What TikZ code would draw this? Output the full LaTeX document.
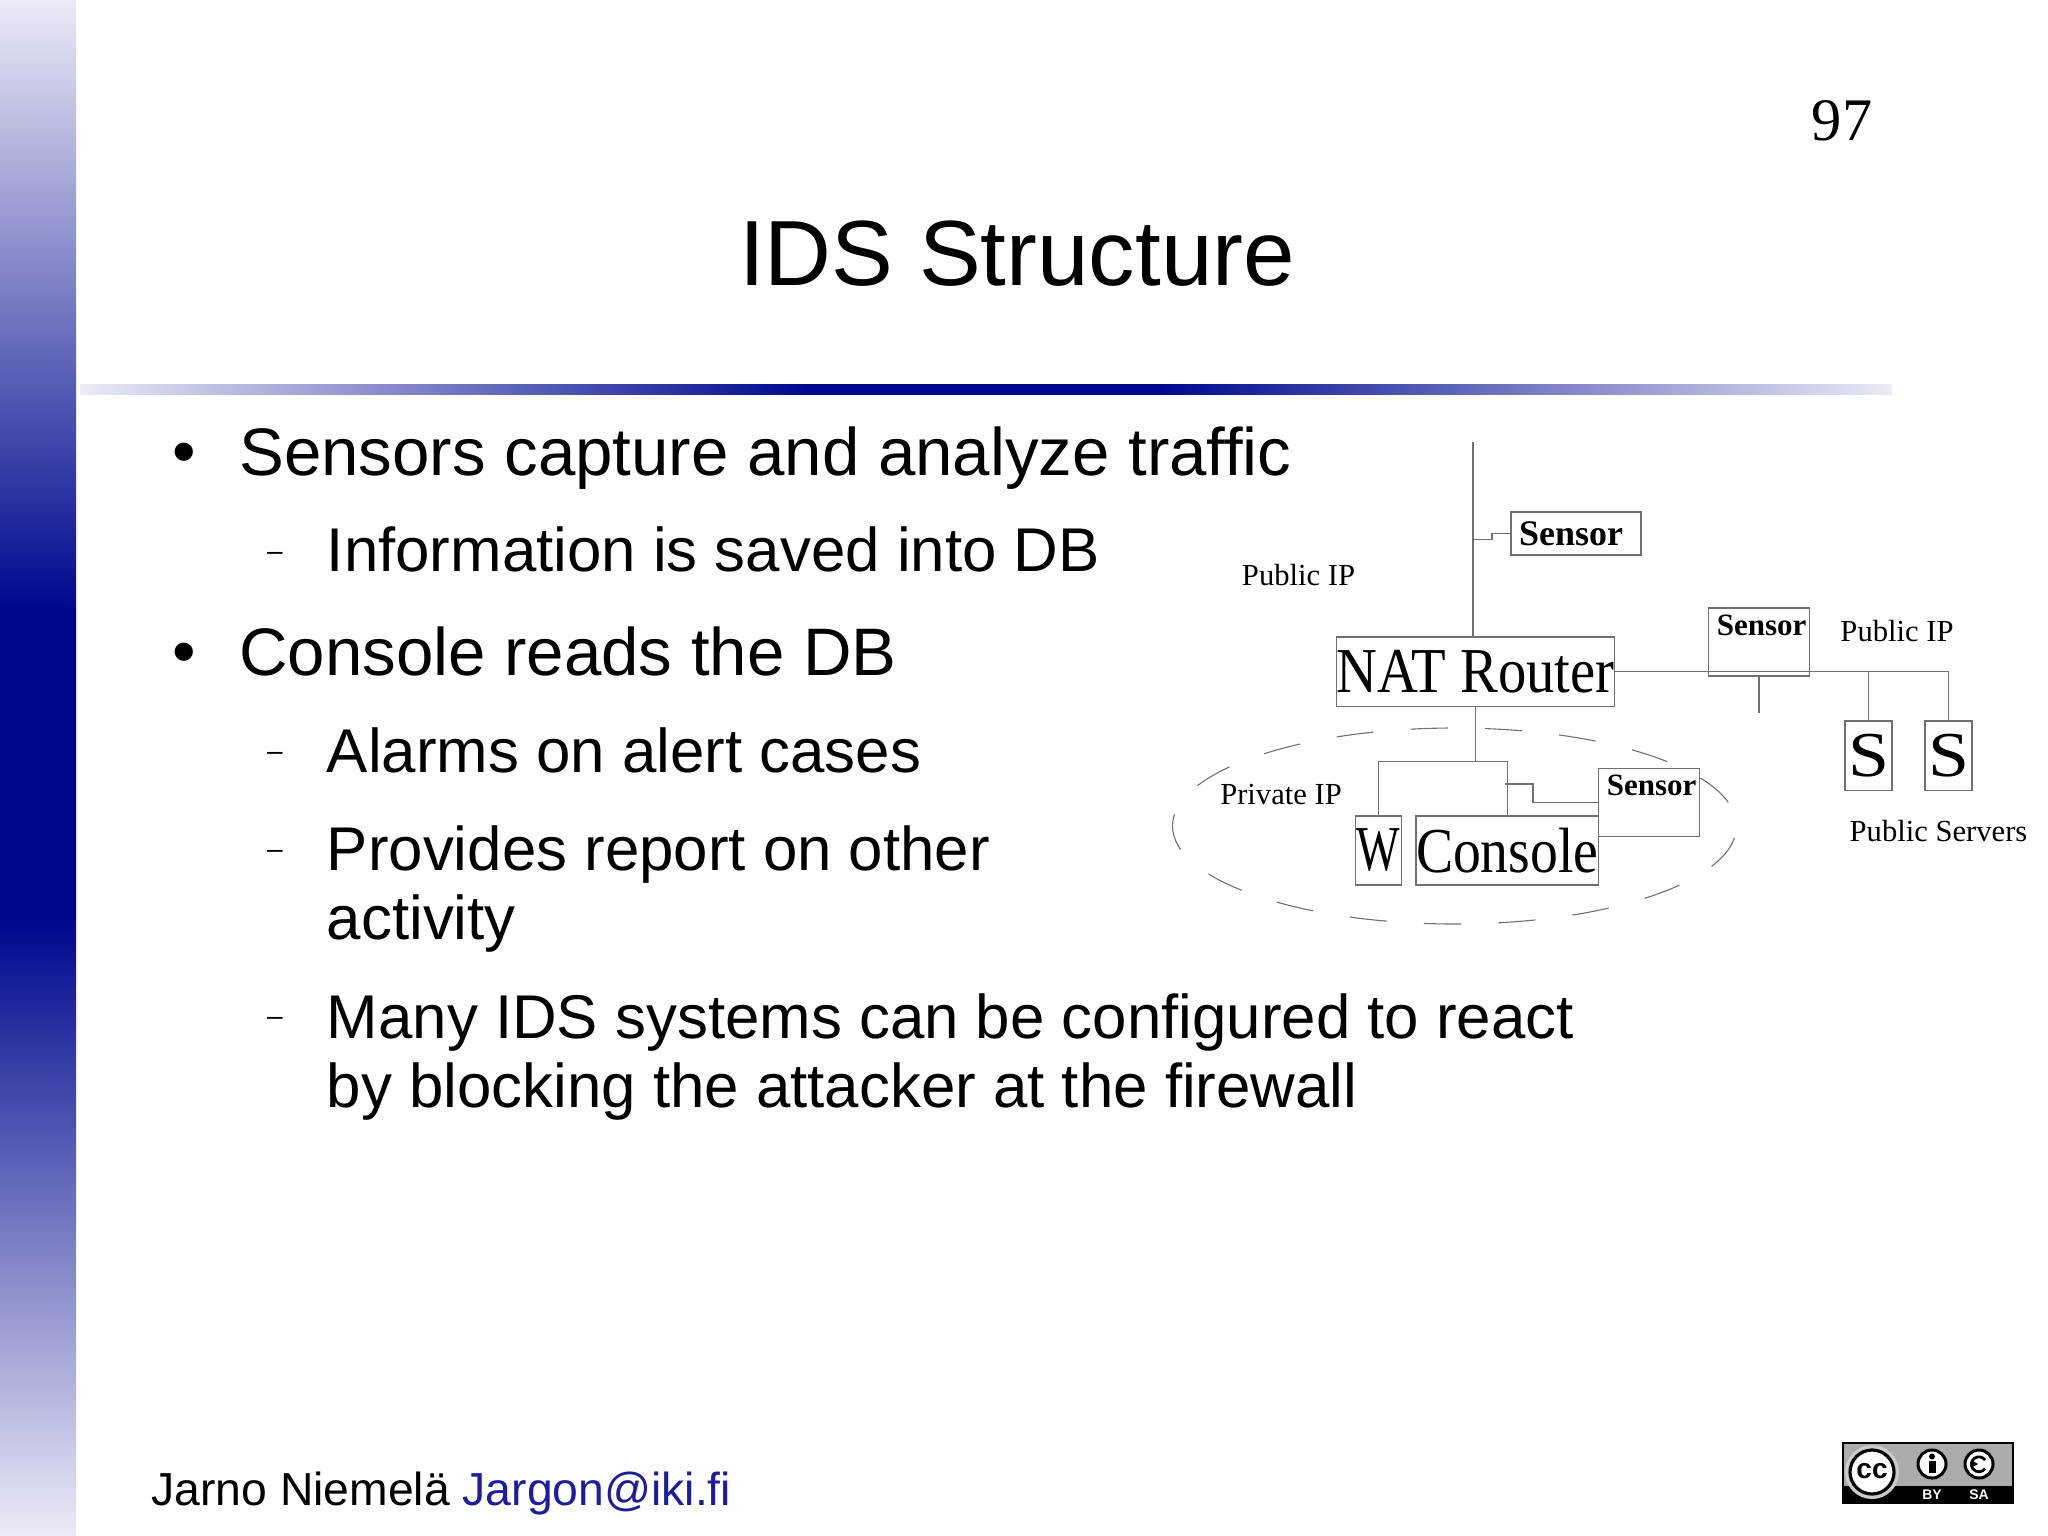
\documentclass[tikz,border=0pt]{standalone}
\usepackage{fontspec}
\setmainfont{Liberation Sans}
\newfontfamily\figserif{Liberation Serif}
\newcommand{\fsize}[1]{\fontsize{#1}{#1}\selectfont}
\newcommand{\narrowtext}[2]{\scalebox{#1}[1]{#2}}
\definecolor{slidenavy}{HTML}{00088E}
\definecolor{linkblue}{HTML}{1C1C9C}
\definecolor{figline}{HTML}{707070}
\pgfdeclareverticalshading{sideband}{100bp}{
    color(0bp)=(white!92!slidenavy);
    color(25bp)=(white!92!slidenavy);
    color(45bp)=(slidenavy);
    color(55.2bp)=(slidenavy);
    color(75bp)=(white!92!slidenavy);
    color(100bp)=(white!92!slidenavy)}
\pgfdeclarehorizontalshading{headrule}{100bp}{
    color(0bp)=(white!92!slidenavy);
    color(25bp)=(white!92!slidenavy);
    color(45bp)=(slidenavy);
    color(54.8bp)=(slidenavy);
    color(75bp)=(white!92!slidenavy);
    color(100bp)=(white!92!slidenavy)}
\begin{document}
\begin{tikzpicture}[x=0.5pt,y=-0.5pt,
    bodyline/.style={anchor=base west,inner sep=0pt,font=\fsize{33.6}},
    subline/.style={anchor=base west,inner sep=0pt,font=\fsize{30.9}},
    bulletmark/.style={inner sep=0pt,font=\fsize{33.6}},
    dashmark/.style={inner sep=0pt,font=\fsize{14}},
    figbox/.style={draw=figline,line width=0.65pt,fill=white,inner sep=0pt,font=\figserif\fsize{32}},
    sensorbox/.style={figbox,font=\figserif\bfseries\fsize{15.5},text height=13.7pt,text depth=20.4pt,minimum width=50.75pt},
    figlabel/.style={inner sep=0pt,font=\figserif\fsize{15.3}},
    figwire/.style={draw=figline,line width=0.65pt}]
    \useasboundingbox (0,0) rectangle (2048,1535);
    \shade[shading=sideband] (0,0) rectangle (76,1535);
    \shade[shading=headrule] (80,384) rectangle (1892,394);

    \node[inner sep=0pt,anchor=base,font=\figserif\fsize{30.2}] (pagenum) at (1842,141) {97};
    \node[inner sep=0pt,anchor=base,font=\fsize{46.3}] (slidetitle) at (1017,286) {IDS Structure};

    \node[bulletmark] (markA) at (184,459.3) {•};
    \node[bodyline] (lineA) at (239,475.5) {Sensors capture and analyze traffic};
    \node[dashmark] (markB) at (275,556.7) {–};
    \node[subline] (lineB) at (326.5,571.5) {Information is saved into DB};
    \node[bulletmark] (markC) at (184,659.3) {•};
    \node[bodyline] (lineC) at (239,675) {Console reads the DB};
    \node[dashmark] (markD) at (275,756.7) {–};
    \node[subline] (lineD) at (326.5,772) {Alarms on alert cases};
    \node[dashmark] (markE) at (275,854.7) {–};
    \node[subline] (lineE) at (326.5,870) {Provides report on other};
    \node[subline] (lineF) at (326.5,939) {activity};
    \node[dashmark] (markF) at (275,1021.7) {–};
    \node[subline] (lineG) at (326.5,1038) {Many IDS systems can be configured to react};
    \node[subline] (lineH) at (326.5,1107) {by blocking the attacker at the firewall};
    \node[anchor=base west,inner sep=0pt,font=\fsize{23.15}] (footer) at (151,1505) {Jarno Niemelä \textcolor{linkblue}{Jargon@iki.fi}};

    \draw[figline,line width=0.55pt,dash pattern=on 18.6pt off 18.6pt,dash phase=31.2pt] (1454.5,826) ellipse [x radius=282,y radius=98];

    \node[figbox,minimum width=137.8pt,minimum height=34.75pt] (router) at (1475.5,671.75) {\narrowtext{.885}{NAT Router}};
    \node[sensorbox,minimum width=65pt,minimum height=21.5pt,text height=14pt,text depth=1.6pt,font=\figserif\bfseries\fsize{18}] (sensorA) at (1576,533.5) {Sensor\hspace*{5pt}};
    \node[sensorbox] (sensorB) at (1759,642) {\hspace*{2.6pt}Sensor};
    \node[sensorbox] (sensorC) at (1649,802.5) {\hspace*{2.6pt}Sensor};
    \node[figbox,minimum width=23pt,minimum height=34.5pt] (wstation) at (1378.5,850.5) {\narrowtext{.72}{W}};
    \node[figbox,minimum width=91.25pt,minimum height=34.5pt] (console) at (1507.25,850.5) {\narrowtext{.87}{Console}};
    \node[figbox,minimum width=23.5pt,minimum height=34.75pt] (serverA) at (1868.5,755.75) {\narrowtext{1.15}{S}};
    \node[figbox,minimum width=23.5pt,minimum height=34.75pt] (serverB) at (1948.5,755.75) {\narrowtext{1.15}{S}};

    \node[figlabel] (publicA) at (1298.5,575) {Public IP};
    \node[figlabel] (publicB) at (1897,631) {Public IP};
    \node[figlabel] (privatelan) at (1281,794.5) {Private IP};
    \node[figlabel] (publicsrv) at (1938.5,831) {Public Servers};

    \coordinate (uplink) at (1473,442);
    \coordinate (uptap) at (1473,539.5);
    \coordinate (wanend) at (1948.5,671.75);
    \coordinate (sensortail) at (1759,712.7);
    \coordinate (lanjoin) at (1475.5,761.6);
    \coordinate (lantap) at (1504.5,784);

    \draw[figwire] (uplink) -- (uplink |- router.north);
    \draw[figwire] (uptap) -- ++(19,0) |- (sensorA.west);
    \draw[figwire] (router.east) -- (wanend) -- (serverB.north);
    \draw[figwire] (router.east -| serverA.north) -- (serverA.north);
    \draw[figwire] (sensorB.south) -- (sensortail);
    \draw[figwire] (router.south) -- (lanjoin);
    \draw[figwire] (wstation.north) |- (lanjoin) -| (console.north);
    \draw[figwire] (lantap) -- ++(28.5,0) |- (sensorC.west);

    \fill[black!33] (1843,1443) rectangle (2013,1486);
    \fill[black] (1843,1486) rectangle (2013,1503);
    \draw[black,line width=1pt] (1843,1443) rectangle (2013,1503);
    \fill[white!80!black] (1872,1472) circle (27);
    \node[draw=black,line width=1.6pt,fill=white,circle,inner sep=0pt,minimum size=22pt,font=\bfseries\fsize{14}] (ccmark) at (1872,1472) {\raisebox{1pt}{cc}};
    \node[draw=black,line width=1.5pt,fill=white,circle,inner sep=0pt,minimum size=14pt] (bymark) at (1932,1464) {};
    \node[draw=black,line width=1.5pt,fill=white,circle,inner sep=0pt,minimum size=14pt] (samark) at (1979,1464) {};
    \fill[black] (1932,1456.5) circle (3);
    \fill[black] (1928.5,1461) rectangle (1935.5,1473);
    \draw[black,line width=1.4pt] (1985,1460) arc [start angle=-35,end angle=-325,radius=7.5];
    \fill[black] (1971,1460) -- (1978,1464) -- (1971,1468) -- cycle;
    \node[inner sep=0pt,text=white,font=\bfseries\fsize{7}] (bytext) at (1932,1495) {BY};
    \node[inner sep=0pt,text=white,font=\bfseries\fsize{7}] (satext) at (1979,1495) {SA};
\end{tikzpicture}
\end{document}
